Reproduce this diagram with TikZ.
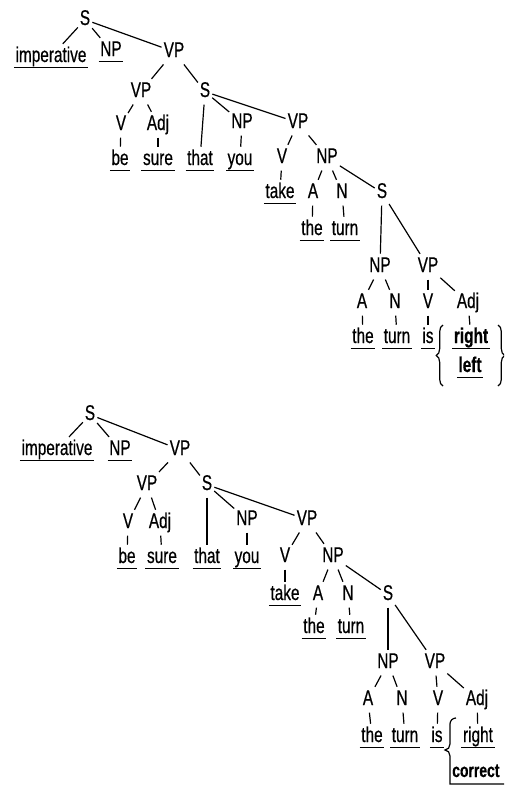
\documentclass[tikz,border=0pt]{standalone}
\usepackage{fontspec}
\setmainfont{Liberation Sans}[FakeStretch=0.72, FakeBold=0.5]
\usetikzlibrary{decorations.pathreplacing}
\begin{document}
\begin{tikzpicture}[x=0.75pt,y=-0.75pt,
  w/.style={font=\fontsize{16}{18}\selectfont, inner xsep=1pt, inner ysep=1.5pt,
    text height=11.5pt, text depth=3.5pt, anchor=base},
  bw/.style={w, font=\fontsize{16}{18}\selectfont\bfseries},
  br/.style={line width=0.9pt, shorten <=0.5pt, shorten >=0.5pt},
  ul/.style={line width=0.9pt},
  brc/.style={line width=0.9pt, decorate, decoration={brace, amplitude=5pt}}]
\clip (0,0) rectangle (504,786);
% ================= top tree =================
\node[w] (tS)   at (85,25) {S};
\node[w] (timp) at (51,62) {imperative};
\node[w] (tNPa) at (111,56) {NP};
\node[w] (tVPa) at (174,57) {VP};
\node[w] (tVPb) at (141,97) {VP};
\node[w] (tSb)  at (205,97) {S};
\node[w] (tV1)  at (121,130) {V};
\node[w] (tAdj1) at (158,130) {Adj};
\node[w] (tbe)  at (120,165) {be};
\node[w] (tsure) at (158,165) {sure};
\node[w] (tthat) at (200,165) {that};
\node[w] (tyou) at (240,165) {you};
\node[w] (tNPb) at (242,128) {NP};
\node[w] (tVPc) at (298,128) {VP};
\node[w] (tV2)  at (282,163) {V};
\node[w] (tNPc) at (327,163) {NP};
\node[w] (ttake) at (280,198) {take};
\node[w] (tA1)  at (313,198) {A};
\node[w] (tN1)  at (342,198) {N};
\node[w] (tSc)  at (382,198) {S};
\node[w] (tthe1) at (312,235) {the};
\node[w] (tturn1) at (345,235) {turn};
\node[w] (tNPd) at (380,272) {NP};
\node[w] (tVPd) at (428,272) {VP};
\node[w] (tA2)  at (362,308) {A};
\node[w] (tN2)  at (395,308) {N};
\node[w] (tV3)  at (428,308) {V};
\node[w] (tAdj2) at (468,308) {Adj};
\node[w] (tthe2) at (363,343) {the};
\node[w] (tturn2) at (397,343) {turn};
\node[w] (tis)  at (428,343) {is};
\node[bw] (tright) at (471,343) {right};
\node[bw] (tleft) at (470,372) {left};
\draw[br] (tS) -- (timp);
\draw[br] (tS) -- (tNPa);
\draw[br] (tS) -- (tVPa);
\draw[br] (tVPa) -- (tVPb);
\draw[br] (tVPa) -- (tSb);
\draw[br] (tVPb) -- (tV1);
\draw[br] (tVPb) -- (tAdj1);
\draw[br] (tV1) -- (tbe);
\draw[br] (tAdj1) -- (tsure);
\draw[br] (tSb) -- (tthat);
\draw[br] (tSb) -- (tNPb);
\draw[br] (tSb) -- (tVPc);
\draw[br] (tNPb) -- (tyou);
\draw[br] (tVPc) -- (tV2);
\draw[br] (tVPc) -- (tNPc);
\draw[br] (tV2) -- (ttake);
\draw[br] (tNPc) -- (tA1);
\draw[br] (tNPc) -- (tN1);
\draw[br] (tNPc) -- (tSc);
\draw[br] (tA1) -- (tthe1);
\draw[br] (tN1) -- (tturn1);
\draw[br] (tSc) -- (tNPd);
\draw[br] (tSc) -- (tVPd);
\draw[br] (tNPd) -- (tA2);
\draw[br] (tNPd) -- (tN2);
\draw[br] (tVPd) -- (tV3);
\draw[br] (tVPd) -- (tAdj2);
\draw[br] (tA2) -- (tthe2);
\draw[br] (tN2) -- (tturn2);
\draw[br] (tV3) -- (tis);
\draw[br] (tAdj2) -- (tright);
\foreach \n in {timp,tNPa,tbe,tsure,tthat,tyou,ttake,tthe1,tturn1,tthe2,tturn2,tis,tright,tleft}
  \draw[ul] ([yshift=1pt]\n.south west) -- ([yshift=1pt]\n.south east);
\coordinate (tLb1) at (443,386);
\coordinate (tLb2) at (443,325);
\coordinate (tRb1) at (498,325);
\coordinate (tRb2) at (498,386);
\draw[brc] (tLb1) -- (tLb2);
\draw[brc] (tRb1) -- (tRb2);
% ================= bottom tree =================
\node[w] (bS)   at (90,420) {S};
\node[w] (bimp) at (57,455) {imperative};
\node[w] (bNPa) at (120,455) {NP};
\node[w] (bVPa) at (180,455) {VP};
\node[w] (bVPb) at (147,490) {VP};
\node[w] (bSb)  at (207,490) {S};
\node[w] (bV1)  at (128,528) {V};
\node[w] (bAdj1) at (160,528) {Adj};
\node[w] (bbe)  at (127,563) {be};
\node[w] (bsure) at (162,563) {sure};
\node[w] (bthat) at (207,563) {that};
\node[w] (byou) at (247,563) {you};
\node[w] (bNPb) at (247,525) {NP};
\node[w] (bVPc) at (307,525) {VP};
\node[w] (bV2)  at (285,562) {V};
\node[w] (bNPc) at (333,562) {NP};
\node[w] (btake) at (285,600) {take};
\node[w] (bA1)  at (318,600) {A};
\node[w] (bN1)  at (348,600) {N};
\node[w] (bSc)  at (388,600) {S};
\node[w] (bthe1) at (314,633) {the};
\node[w] (bturn1) at (351,633) {turn};
\node[w] (bNPd) at (388,668) {NP};
\node[w] (bVPd) at (435,668) {VP};
\node[w] (bA2)  at (368,705) {A};
\node[w] (bN2)  at (402,705) {N};
\node[w] (bV3)  at (438,705) {V};
\node[w] (bAdj2) at (477,705) {Adj};
\node[w] (bthe2) at (372,742) {the};
\node[w] (bturn2) at (405,742) {turn};
\node[w] (bis)  at (437,742) {is};
\node[w] (bright) at (478,742) {right};
\node[bw, font=\fontsize{14.5}{17}\selectfont\bfseries, inner xsep=0pt, anchor=base west] (bcorrect) at (452,777) {correct};
\draw[br] (bS) -- (bimp);
\draw[br] (bS) -- (bNPa);
\draw[br] (bS) -- (bVPa);
\draw[br] (bVPa) -- (bVPb);
\draw[br] (bVPa) -- (bSb);
\draw[br] (bVPb) -- (bV1);
\draw[br] (bVPb) -- (bAdj1);
\draw[br] (bV1) -- (bbe);
\draw[br] (bAdj1) -- (bsure);
\draw[br] (bSb) -- (bthat);
\draw[br] (bSb) -- (bNPb);
\draw[br] (bSb) -- (bVPc);
\draw[br] (bNPb) -- (byou);
\draw[br] (bVPc) -- (bV2);
\draw[br] (bVPc) -- (bNPc);
\draw[br] (bV2) -- (btake);
\draw[br] (bNPc) -- (bA1);
\draw[br] (bNPc) -- (bN1);
\draw[br] (bNPc) -- (bSc);
\draw[br] (bA1) -- (bthe1);
\draw[br] (bN1) -- (bturn1);
\draw[br] (bSc) -- (bNPd);
\draw[br] (bSc) -- (bVPd);
\draw[br] (bNPd) -- (bA2);
\draw[br] (bNPd) -- (bN2);
\draw[br] (bVPd) -- (bV3);
\draw[br] (bVPd) -- (bAdj2);
\draw[br] (bA2) -- (bthe2);
\draw[br] (bN2) -- (bturn2);
\draw[br] (bV3) -- (bis);
\draw[br] (bAdj2) -- (bright);
\foreach \n in {bimp,bNPa,bbe,bsure,bthat,byou,btake,bthe1,bturn1,bthe2,bturn2,bis,bright}
  \draw[ul] ([yshift=1pt]\n.south west) -- ([yshift=1pt]\n.south east);
\coordinate (bBr) at (456,718);
\draw[line width=0.9pt] (bBr) to[out=180,in=90] (450,724) -- (450,744)
  to[out=-90,in=0] (445,750) to[out=0,in=90] (450,756) -- (450,784) -- (504,784);
\end{tikzpicture}
\end{document}
